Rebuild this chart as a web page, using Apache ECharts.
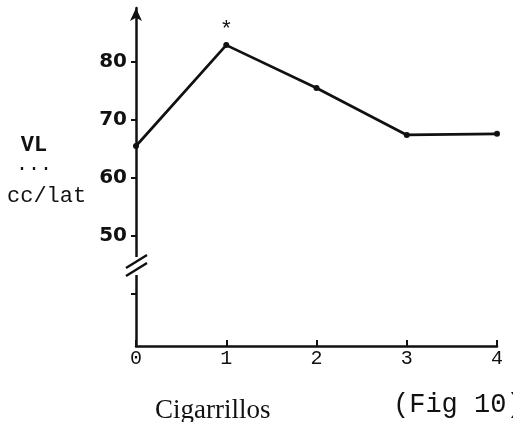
<!DOCTYPE html>
<html>
<head>
<meta charset="utf-8">
<script src="https://cdn.jsdelivr.net/npm/echarts@6/dist/echarts.min.js"></script>
<style>html,body{margin:0;padding:0;background:#fff;}#c{width:513px;height:422px;}</style>
</head>
<body>
<div id="c"></div>
<script>
const categories = ['0', '1', '2', '3', '4'];
const vlValues = [65.5, 82.9, 75.5, 67.4, 67.6];
const significance = ['', '*', '', '', ''];
const yTickValues = [40, 50, 60, 70, 80];
const yLabelValues = [50, 60, 70, 80];
const axisBreakAt = 44.8;
const yUnitLines = ['VL', '...', 'cc/lat'];
const xTitle = 'Cigarrillos';
const figLabel = '(Fig 10)';

const chart = echarts.init(document.getElementById('c'), null, {renderer: 'canvas'});
const ink = '#111';

chart.setOption({
  animation: false,
  backgroundColor: '#fff',
  grid: {left: 136, right: 16, top: 8, bottom: 76},
  xAxis: {
    type: 'category',
    data: categories,
    boundaryGap: false,
    axisLine: {lineStyle: {color: ink, width: 2.5}},
    axisTick: {inside: true, length: 6, lineStyle: {color: ink, width: 2}},
    axisLabel: {color: ink, fontFamily: 'Liberation Mono', fontSize: 20, margin: 3}
  },
  yAxis: {
    type: 'value',
    min: 31,
    max: 89.3,
    splitLine: {show: false},
    axisLine: {show: true, symbol: ['none', 'arrow'], symbolSize: [9, 13], lineStyle: {color: ink, width: 2.5}},
    axisTick: {show: true, customValues: yTickValues, length: 5, lineStyle: {color: ink, width: 2}},
    axisLabel: {customValues: yLabelValues, color: ink, fontFamily: 'DejaVu Sans', fontWeight: 'bold', fontSize: 20, margin: 9}
  },
  series: [{
    type: 'line',
    data: vlValues.map((v, i) => ({
      value: v,
      label: {show: !!significance[i], formatter: significance[i]}
    })),
    symbol: 'circle',
    symbolSize: 6,
    lineStyle: {color: ink, width: 2.7},
    itemStyle: {color: ink},
    label: {position: 'top', distance: 1, color: ink, fontFamily: 'Liberation Mono', fontSize: 22}
  }]
});

const ax = chart.convertToPixel({xAxisIndex: 0}, categories[0]);
const by = chart.convertToPixel({yAxisIndex: 0}, axisBreakAt);
chart.setOption({
  graphic: [
    {type: 'rect', shape: {x: ax - 3, y: by - 9, width: 6, height: 18}, style: {fill: '#fff'}, z: 100},
    {type: 'line', shape: {x1: ax - 10, y1: by + 2, x2: ax + 11, y2: by - 11}, style: {stroke: ink, lineWidth: 2.5}, z: 101},
    {type: 'line', shape: {x1: ax - 10, y1: by + 10, x2: ax + 11, y2: by - 3}, style: {stroke: ink, lineWidth: 2.5}, z: 101},
    {type: 'text', style: {text: yUnitLines[0], x: 34, y: 145, align: 'center', verticalAlign: 'middle', font: 'bold 22px "Liberation Mono"', fill: ink}},
    {type: 'text', style: {text: yUnitLines[1], x: 34, y: 165, align: 'center', verticalAlign: 'middle', font: '20px "Liberation Mono"', fill: ink}},
    {type: 'text', style: {text: yUnitLines[2], x: 7, y: 196, align: 'left', verticalAlign: 'middle', font: '22px "Liberation Mono"', fill: ink}},
    {type: 'text', style: {text: xTitle, x: 155, y: 411, align: 'left', verticalAlign: 'middle', font: '27px "Liberation Serif"', fill: ink}},
    {type: 'text', style: {text: figLabel, x: 393, y: 405, align: 'left', verticalAlign: 'middle', font: '27px "Liberation Mono"', fill: ink}}
  ]
});
</script>
</body>
</html>
